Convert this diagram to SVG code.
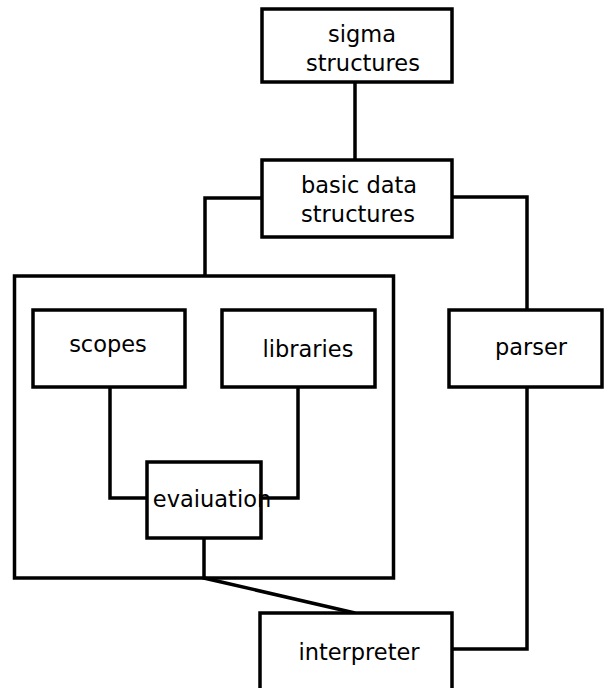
<svg xmlns="http://www.w3.org/2000/svg" width="608" height="688" viewBox="0 0 608 688">
  <style>
    .box { fill: #ffffff; stroke: #000000; stroke-width: 3.5; }
    .frame { fill: none; stroke: #000000; stroke-width: 3.5; }
    .wire { fill: none; stroke: #000000; stroke-width: 3.5; }
    .lbl { font-family: "DejaVu Sans", "Liberation Sans", sans-serif; font-size: 22.5px; fill: #000000; text-anchor: middle; }
  </style>
  <rect width="608" height="688" fill="#ffffff"/>

  <!-- evaluator container -->
  <g id="evaluator">
    <rect class="frame" x="14.5" y="276" width="379" height="302"/>
  </g>

  <!-- connectors -->
  <g id="connectors">
    <line class="wire" x1="355" y1="82" x2="355" y2="160"/>
    <polyline class="wire" points="262,198 205,198 205,276"/>
    <polyline class="wire" points="452,197 527,197 527,310"/>
    <polyline class="wire" points="527,387 527,649 452,649"/>
    <polyline class="wire" points="110,387 110,498 147,498"/>
    <polyline class="wire" points="298,387 298,498 261,498"/>
    <polyline class="wire" points="204,538 204,578 355,613"/>
  </g>

  <g id="sigma-structures">
    <rect class="box" x="262" y="9" width="190" height="73"/>
    <text class="lbl" x="362" y="42">sigma</text>
    <text class="lbl" x="363" y="71">structures</text>
  </g>

  <g id="basic-data-structures">
    <rect class="box" x="262" y="160" width="190" height="77"/>
    <text class="lbl" x="359" y="193">basic data</text>
    <text class="lbl" x="358" y="222">structures</text>
  </g>

  <g id="parser">
    <rect class="box" x="449" y="310" width="153" height="77"/>
    <text class="lbl" x="531" y="355">parser</text>
  </g>

  <g id="scopes">
    <rect class="box" x="33" y="310" width="152" height="77"/>
    <text class="lbl" x="108" y="352">scopes</text>
  </g>

  <g id="libraries">
    <rect class="box" x="222" y="310" width="153" height="77"/>
    <text class="lbl" x="308" y="357">libraries</text>
  </g>

  <g id="evaluation">
    <rect class="box" x="147" y="462" width="114" height="76"/>
    <text class="lbl" x="212" y="507">evaiuation</text>
  </g>

  <g id="interpreter">
    <rect class="box" x="260" y="613" width="192" height="80"/>
    <text class="lbl" x="359" y="660">interpreter</text>
  </g>
</svg>
